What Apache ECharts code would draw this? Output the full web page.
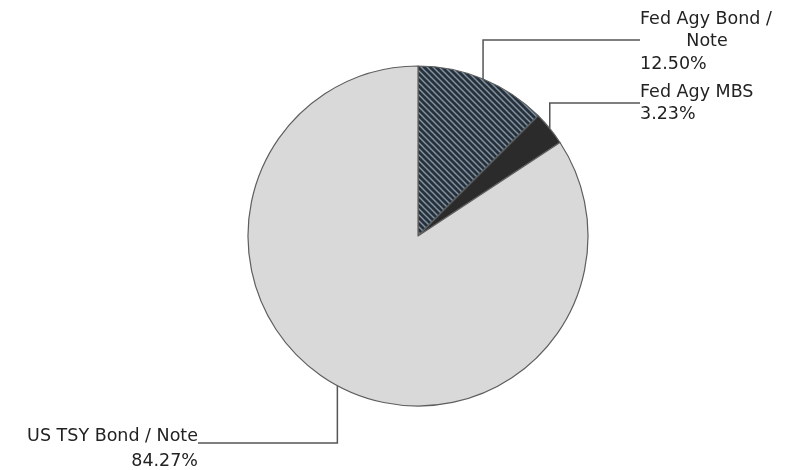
<!DOCTYPE html>
<html>
<head>
<meta charset="utf-8">
<script src="https://cdn.jsdelivr.net/npm/echarts@6/dist/echarts.min.js"></script>
<style>html,body{margin:0;padding:0;background:#fff}#c{width:796px;height:470px}</style>
</head>
<body>
<div id="c"></div>
<script>
// ---- data ----
const categories = ['Fed Agy Bond / Note', 'Fed Agy MBS', 'US TSY Bond / Note'];
const values = [12.50, 3.23, 84.27];

// ---- styles ----
function hatch() {
  const s = 6;
  const c = document.createElement('canvas');
  c.width = s; c.height = s;
  const g = c.getContext('2d');
  g.fillStyle = '#27313b';
  g.fillRect(0, 0, s, s);
  g.strokeStyle = '#8393a1';
  g.lineWidth = 1.5;
  for (let k = -1; k <= 1; k++) {
    g.beginPath();
    g.moveTo(k * s - 1, -1);
    g.lineTo(k * s + s + 1, s + 1);
    g.stroke();
  }
  return c;
}
const sliceColors = [{ image: hatch(), repeat: 'repeat' }, '#2b2b2b', '#d9d9da'];

const labelCfg = [
  { x: 640, y: 8, align: 'left', lineY: 40, endX: 640 },
  { x: 640, y: 81, align: 'left', lineY: 103, endX: 640 },
  { x: 198, y: 424, align: 'right', lineY: 443, endX: 198 }
];

const chart = echarts.init(document.getElementById('c'), null, { renderer: 'canvas' });
const font = 'DejaVu Sans';
chart.setOption({
  animation: false,
  series: [{
    type: 'pie',
    center: [418, 236],
    radius: [0, 170],
    startAngle: 90,
    clockwise: true,
    avoidLabelOverlap: false,
    data: categories.map((n, i) => ({
      name: n,
      value: values[i],
      itemStyle: { color: sliceColors[i] }
    })),
    itemStyle: { borderColor: '#5e5e5e', borderWidth: 1.2 },
    emphasis: { disabled: true },
    label: {
      show: true,
      position: 'outside',
      fontFamily: font,
      fontSize: 17.5,
      color: '#222',
      formatter: function (p) {
        const pct = p.value.toFixed(2) + '%';
        if (p.dataIndex === 0) {
          return '{a|Fed Agy Bond /}\n{c|Note}\n{a|' + pct + '}';
        }
        if (p.dataIndex === 1) {
          return '{a|' + p.name + '}\n{a|' + pct + '}';
        }
        return '{b|' + p.name + '}\n{b|' + pct + '}';
      },
      rich: {
        a: { fontFamily: font, fontSize: 17.5, lineHeight: 22.5, color: '#222' },
        c: { fontFamily: font, fontSize: 17.5, lineHeight: 22.5, color: '#222', width: 134, align: 'center' },
        b: { fontFamily: font, fontSize: 17.5, lineHeight: 25, color: '#222', align: 'right' }
      }
    },
    labelLine: {
      show: true,
      length: 10,
      length2: 10,
      lineStyle: { color: '#555', width: 1.5 }
    },
    labelLayout: function (params) {
      const cfg = labelCfg[params.dataIndex];
      const p0 = params.labelLinePoints[0];
      return {
        x: cfg.x,
        y: cfg.y,
        align: cfg.align,
        verticalAlign: 'top',
        labelLinePoints: [
          [p0[0], p0[1]],
          [p0[0], cfg.lineY],
          [cfg.endX, cfg.lineY]
        ]
      };
    }
  }]
});
</script>
</body>
</html>
